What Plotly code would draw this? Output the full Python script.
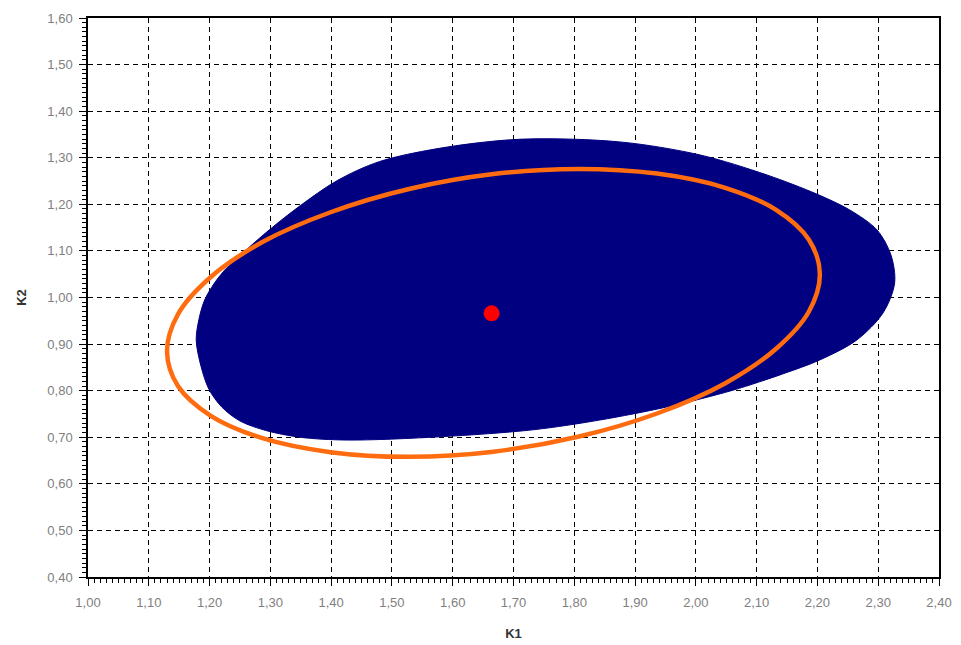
import plotly.graph_objects as go

# Blue region boundary (K1, K2)
blue_k1 = [1.178, 1.183, 1.192, 1.207, 1.225, 1.255, 1.299, 1.349, 1.410, 1.480, 1.591, 1.716,
           1.875, 2.007, 2.117, 2.199, 2.253, 2.298, 2.321, 2.327, 2.308, 2.265, 2.204, 2.143,
           2.061, 1.952, 1.842, 1.732, 1.579, 1.426, 1.349, 1.294, 1.250, 1.220, 1.199, 1.186, 1.178]
blue_k2 = [0.909, 0.956, 0.995, 1.029, 1.059, 1.096, 1.146, 1.197, 1.251, 1.292, 1.323, 1.340,
           1.334, 1.306, 1.263, 1.222, 1.188, 1.145, 1.091, 1.031, 0.967, 0.909, 0.866, 0.836,
           0.801, 0.765, 0.737, 0.716, 0.701, 0.694, 0.700, 0.714, 0.735, 0.765, 0.803, 0.852, 0.909]

# Orange ellipse points (K1, K2)
ell_k1 = [2.204, 2.186, 2.132, 2.047, 1.936, 1.806, 1.667, 1.528, 1.399, 1.287, 1.202, 1.148,
          1.130, 1.148, 1.202, 1.287, 1.399, 1.528, 1.667, 1.806, 1.936, 2.047, 2.132, 2.186, 2.204]
ell_k2 = [1.050, 1.124, 1.188, 1.236, 1.266, 1.276, 1.265, 1.233, 1.183, 1.119, 1.044, 0.964,
          0.884, 0.810, 0.746, 0.698, 0.668, 0.658, 0.669, 0.701, 0.751, 0.815, 0.890, 0.970, 1.050]

# Central estimate
pt_k1 = [1.664]
pt_k2 = [0.966]

fig = go.Figure()
fig.add_trace(go.Scatter(x=blue_k1, y=blue_k2, mode="lines", fill="toself",
                         fillcolor="#000080",
                         line=dict(color="#000080", width=1, shape="spline", smoothing=0.9),
                         hoverinfo="skip", showlegend=False))
fig.add_trace(go.Scatter(x=ell_k1, y=ell_k2, mode="lines",
                         line=dict(color="#ff6c10", width=4.5, shape="spline", smoothing=1.0),
                         showlegend=False))
fig.add_trace(go.Scatter(x=pt_k1, y=pt_k2, mode="markers",
                         marker=dict(color="#ff0000", size=16), showlegend=False))

axis_common = dict(
    showline=True, linecolor="black", linewidth=1.5, mirror=True,
    showgrid=True, gridcolor="black", gridwidth=1, griddash="5px,4px",
    zeroline=False, ticks="outside", ticklen=7, tickcolor="black", tickwidth=1.2,
    tickformat=".2f", dtick=0.1, automargin=False,
    tickfont=dict(family="Liberation Sans, Arial", size=13, color="#808080"),
    minor=dict(ticks="outside", ticklen=4, dtick=0.01, tickcolor="black", showgrid=False),
)

fig.update_xaxes(range=[1.0, 2.4], tick0=1.0, ticklabelstandoff=6,
                 title=dict(text="<b>K1</b>", standoff=20,
                            font=dict(family="Liberation Sans, Arial", size=13, color="#333333")),
                 **axis_common)
fig.update_yaxes(range=[0.4, 1.6], tick0=0.4, ticklabelstandoff=4,
                 title=dict(text="<b>K2</b>", standoff=18,
                            font=dict(family="Liberation Sans, Arial", size=13, color="#333333")),
                 **axis_common)

fig.update_layout(
    width=961, height=645,
    margin=dict(l=88, r=22, t=18, b=68),
    paper_bgcolor="white", plot_bgcolor="white",
    separators=",.",
    showlegend=False,
)

fig.write_html("out.html")
